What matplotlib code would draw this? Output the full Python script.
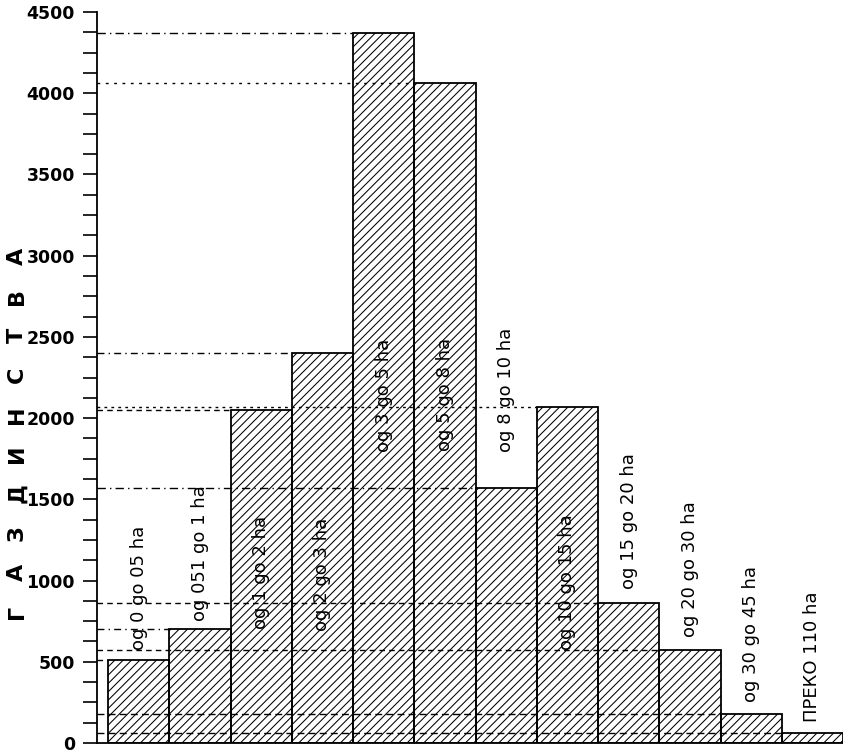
import matplotlib.pyplot as plt
import numpy as np
from matplotlib.ticker import MultipleLocator

# podatoci
kategorii = ['og 0 go 05 ha', 'og 051 go 1 ha', 'og 1 go 2 ha', 'og 2 go 3 ha',
             'og 3 go 5 ha', 'og 5 go 8 ha', 'og 8 go 10 ha', 'og 10 go 15 ha',
             'og 15 go 20 ha', 'og 20 go 30 ha', 'og 30 go 45 ha', 'ПРЕКО 110 ha']
gazdinstva = [510, 700, 2050, 2400, 4370, 4060, 1570, 2070, 860, 575, 180, 60]
# kade pocnuva tekstot (dolen kraj) vo edinici na y oskata
tekst_y = [570, 750, 700, 690, 1790, 1800, 1790, 570, 950, 650, 250, 130]
bukvi = ['Г', 'А', 'З', 'Д', 'И', 'Н', 'С', 'Т', 'В', 'А']
stilovi = [(0, (4, 3)), (0, (5, 3, 1, 3)), (0, (4, 3)), (0, (5, 3, 1, 3)),
           (0, (6, 3, 1, 3)), (0, (2, 4)), (0, (6, 3, 1, 3)), (0, (2, 3)),
           (0, (4, 3)), (0, (4, 3)), (0, (5, 3)), (0, (5, 3))]

plt.rcParams['hatch.linewidth'] = 0.75

fig = plt.figure(figsize=(8.43, 7.55), dpi=100)
ax = fig.add_axes([97/843, 12/755, 746/843, 731/755])

x = np.arange(len(gazdinstva))
ax.bar(x, gazdinstva, width=1, align='edge', facecolor='none',
       edgecolor='black', linewidth=1.3, hatch='////', zorder=3)

# isprekinati linii od oskata do sekoj stolb
for i, v in enumerate(gazdinstva):
    ax.hlines(v, -0.18, i, colors='black', linewidth=1.0,
              linestyles=[stilovi[i]], zorder=2)

for i, t in enumerate(kategorii):
    ax.text(i + 0.5, tekst_y[i], t, rotation=90, ha='center', va='bottom',
            fontsize=13, zorder=4)

ax.set_xlim(-0.18, 12)
ax.set_ylim(0, 4500)
ax.yaxis.set_major_locator(MultipleLocator(500))
ax.yaxis.set_minor_locator(MultipleLocator(125))
ax.tick_params(axis='y', which='both', direction='out', length=10, width=1.2,
               labelsize=12.5, pad=6)
for lab in ax.get_yticklabels():
    lab.set_fontweight('bold')
ax.set_xticks([])
ax.spines['top'].set_visible(False)
ax.spines['right'].set_visible(False)
ax.spines['left'].set_linewidth(1.3)
ax.spines['bottom'].set_linewidth(1.3)

for y, b in zip(np.linspace(0.19, 0.66, len(bukvi)), bukvi):
    fig.text(0.02, y, b, rotation=90, ha='center', va='center',
             fontsize=16, fontweight='bold')

fig.savefig('out.png', dpi=100)
